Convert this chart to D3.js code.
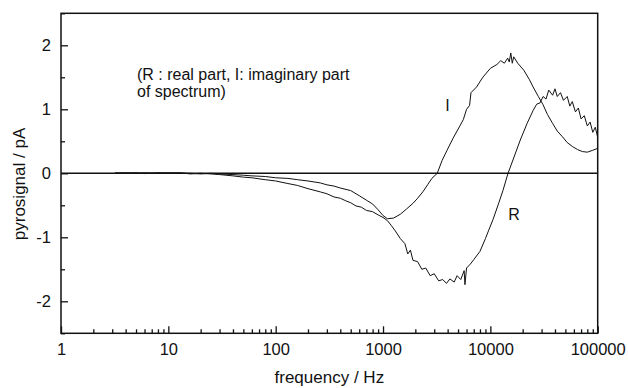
<!DOCTYPE html>
<html>
<head>
<meta charset="utf-8">
<script src="https://cdn.jsdelivr.net/npm/d3@7"></script>
<style>
  body { margin: 0; background: #fff; }
  svg { display: block; font-family: "Liberation Sans", Arial, sans-serif; }
  .axis text { font-size: 16.5px; fill: #111; }
  .axis line { stroke: #111; stroke-width: 1.3; }
</style>
</head>
<body>
<div id="chart"></div>
<script>
// real part (R)
var freqR = [3.2, 4, 5, 6, 8, 10, 13, 16, 20, 25, 30, 40, 50, 60, 80, 100, 130, 160, 200, 260,
             300, 350, 400, 450, 500, 560, 630, 700, 800, 900, 1000, 1100, 1200, 1300, 1450, 1600,
             1700, 1800, 1900, 2100, 2300, 2500, 2750, 3000, 3300, 3600, 3900, 4200, 4600, 4900,
             5300, 5700, 5800, 6000, 6500, 7000, 8000, 9000, 9600, 10600, 12000, 13100, 14600,
             16500, 19000, 22000, 25000, 27000, 29000, 31000, 33000, 35000, 38000, 40000, 42000,
             45000, 48000, 52000, 55000, 58000, 62000, 66000, 70000, 75000, 80000, 85000, 90000,
             95000, 100000];
var valR  = [0.01, 0.0, 0.01, -0.005, 0.01, 0.0, 0.01, -0.01, 0.0, -0.01, -0.02, -0.04, -0.06, -0.07, -0.1, -0.12, -0.16, -0.19, -0.24, -0.29,
             -0.32, -0.37, -0.39, -0.43, -0.46, -0.51, -0.53, -0.58, -0.6, -0.65, -0.69, -0.74, -0.82, -0.9, -1.02, -1.1,
             -1.26, -1.2, -1.36, -1.38, -1.5, -1.48, -1.6, -1.57, -1.68, -1.66, -1.72, -1.65, -1.7, -1.6,
             -1.66, -1.52, -1.74, -1.48, -1.42, -1.35, -1.22, -1.02, -0.9, -0.72, -0.46, -0.27, 0.0,
             0.24, 0.52, 0.78, 0.98, 1.08, 1.1, 1.2, 1.16, 1.3, 1.22, 1.32, 1.2,
             1.26, 1.14, 1.2, 1.05, 1.12, 0.96, 1.02, 0.85, 0.9, 0.74, 0.8, 0.64,
             0.72, 0.56];

// imaginary part (I)
var freqI = [3.2, 4, 5, 6, 8, 10, 13, 16, 20, 25, 30, 40, 50, 60, 80, 100, 130, 160, 200, 260,
             300, 350, 400, 500, 600, 700, 800, 900, 1000, 1100, 1250, 1450, 1650, 1900, 2100,
             2350, 2600, 2850, 3200, 3550, 3950, 4500, 5200, 5600, 6000, 6400, 6600, 7450, 8500,
             10000, 11500, 12500, 13500, 14500, 15000, 15500, 16000, 16500, 18000, 20500, 23000,
             25000, 28000, 31000, 34000, 38000, 42000, 47000, 52000, 58000, 65000, 72000, 80000,
             90000, 100000];
var valI  = [0.0, 0.01, 0.0, 0.01, 0.0, 0.01, 0.0, 0.0, -0.01, 0.0, -0.01, -0.02, -0.03, -0.04, -0.05, -0.07, -0.08, -0.1, -0.12, -0.15,
             -0.18, -0.2, -0.23, -0.27, -0.35, -0.42, -0.48, -0.57, -0.66, -0.71, -0.7, -0.64, -0.56, -0.47, -0.39,
             -0.29, -0.18, -0.08, 0.0, 0.2, 0.36, 0.55, 0.74, 0.84, 1.0, 1.06, 1.26, 1.35, 1.5,
             1.64, 1.7, 1.76, 1.72, 1.8, 1.74, 1.88, 1.72, 1.82, 1.72, 1.61, 1.47,
             1.35, 1.2, 1.07, 0.92, 0.78, 0.66, 0.57, 0.48, 0.42, 0.37, 0.34, 0.33,
             0.36, 0.39];

var xTicks = [1, 10, 100, 1000, 10000, 100000],
    yTicks = [-2, -1, 0, 1, 2];

var seriesLabels = [{text: "I", f: 3800, v: 0.98}, {text: "R", f: 14700, v: -0.73}];
var note = ["(R : real part, I: imaginary part", "of spectrum)"];

var width = 628, height = 388,
    margin = {top: 13.3, right: 30.3, bottom: 54.7, left: 61};

var x = d3.scaleLog()
        .domain([1, 100000])
        .range([margin.left, width - margin.right]);

var y = d3.scaleLinear()
        .domain([-2.5, 2.5])
        .range([height - margin.bottom, margin.top]);

var svg = d3.select("#chart").append("svg")
       .attr("width", width)
       .attr("height", height);

// plain hyphen for negatives, like the original
var fmt = function(d) { return String(d); };

// minor ticks
var minorX = [];
xTicks.slice(0, -1).forEach(function(d) {
  for (var k = 2; k < 10; k++) minorX.push(d * k);
});

svg.append("g")
   .attr("class", "axis")
   .attr("transform", "translate(0," + y(-2.5) + ")")
   .call(d3.axisBottom(x).tickValues(minorX).tickSize(-4).tickFormat(""))
   .call(function(g) { g.select(".domain").remove(); });

svg.append("g")
   .attr("class", "axis")
   .attr("transform", "translate(0," + y(-2.5) + ")")
   .call(d3.axisBottom(x).tickValues(xTicks).tickSize(-7).tickPadding(9.5).tickFormat(fmt))
   .call(function(g) { g.select(".domain").remove(); });

svg.append("g")
   .attr("class", "axis")
   .attr("transform", "translate(" + x(1) + ",0)")
   .call(d3.axisLeft(y).tickValues(d3.range(-2.5, 2.6, 1)).tickSize(-4).tickFormat(""))
   .call(function(g) { g.select(".domain").remove(); });

svg.append("g")
   .attr("class", "axis")
   .attr("transform", "translate(" + x(1) + ",0)")
   .call(d3.axisLeft(y).tickValues(yTicks).tickSize(-7).tickPadding(10).tickFormat(fmt))
   .call(function(g) { g.select(".domain").remove(); });

// frame
svg.append("rect")
   .attr("x", x(1))
   .attr("y", y(2.5))
   .attr("width", x(100000) - x(1))
   .attr("height", y(-2.5) - y(2.5))
   .attr("fill", "none")
   .attr("stroke", "#111")
   .attr("stroke-width", 1.5);

// zero line
svg.append("line")
   .attr("x1", x(1)).attr("x2", x(100000))
   .attr("y1", y(0)).attr("y2", y(0))
   .attr("stroke", "#111")
   .attr("stroke-width", 1.4);

var line = d3.line()
   .x(function(d) { return x(d[0]); })
   .y(function(d) { return y(d[1]); });

[[freqR, valR], [freqI, valI]].forEach(function(s) {
  svg.append("path")
     .datum(d3.zip(s[0], s[1]))
     .attr("fill", "none")
     .attr("stroke", "#111")
     .attr("stroke-width", 1)
     .attr("d", line);
});

svg.selectAll(".slabel")
   .data(seriesLabels)
   .enter().append("text")
   .attr("class", "slabel")
   .attr("x", function(d) { return x(d.f); })
   .attr("y", function(d) { return y(d.v); })
   .attr("font-size", 16)
   .attr("fill", "#111")
   .text(function(d) { return d.text; });

svg.selectAll(".note")
   .data(note)
   .enter().append("text")
   .attr("class", "note")
   .attr("x", 137)
   .attr("y", function(d, i) { return 80 + i * 16.5; })
   .attr("font-size", 16)
   .attr("fill", "#111")
   .text(function(d) { return d; });

// axis titles
svg.append("text")
   .attr("x", (x(1) + x(100000)) / 2)
   .attr("y", 383)
   .attr("text-anchor", "middle")
   .attr("font-size", 17)
   .attr("fill", "#111")
   .text("frequency / Hz");

svg.append("text")
   .attr("transform", "translate(25,184) rotate(-90)")
   .attr("text-anchor", "middle")
   .attr("font-size", 17)
   .attr("fill", "#111")
   .text("pyrosignal / pA");
</script>
</body>
</html>
